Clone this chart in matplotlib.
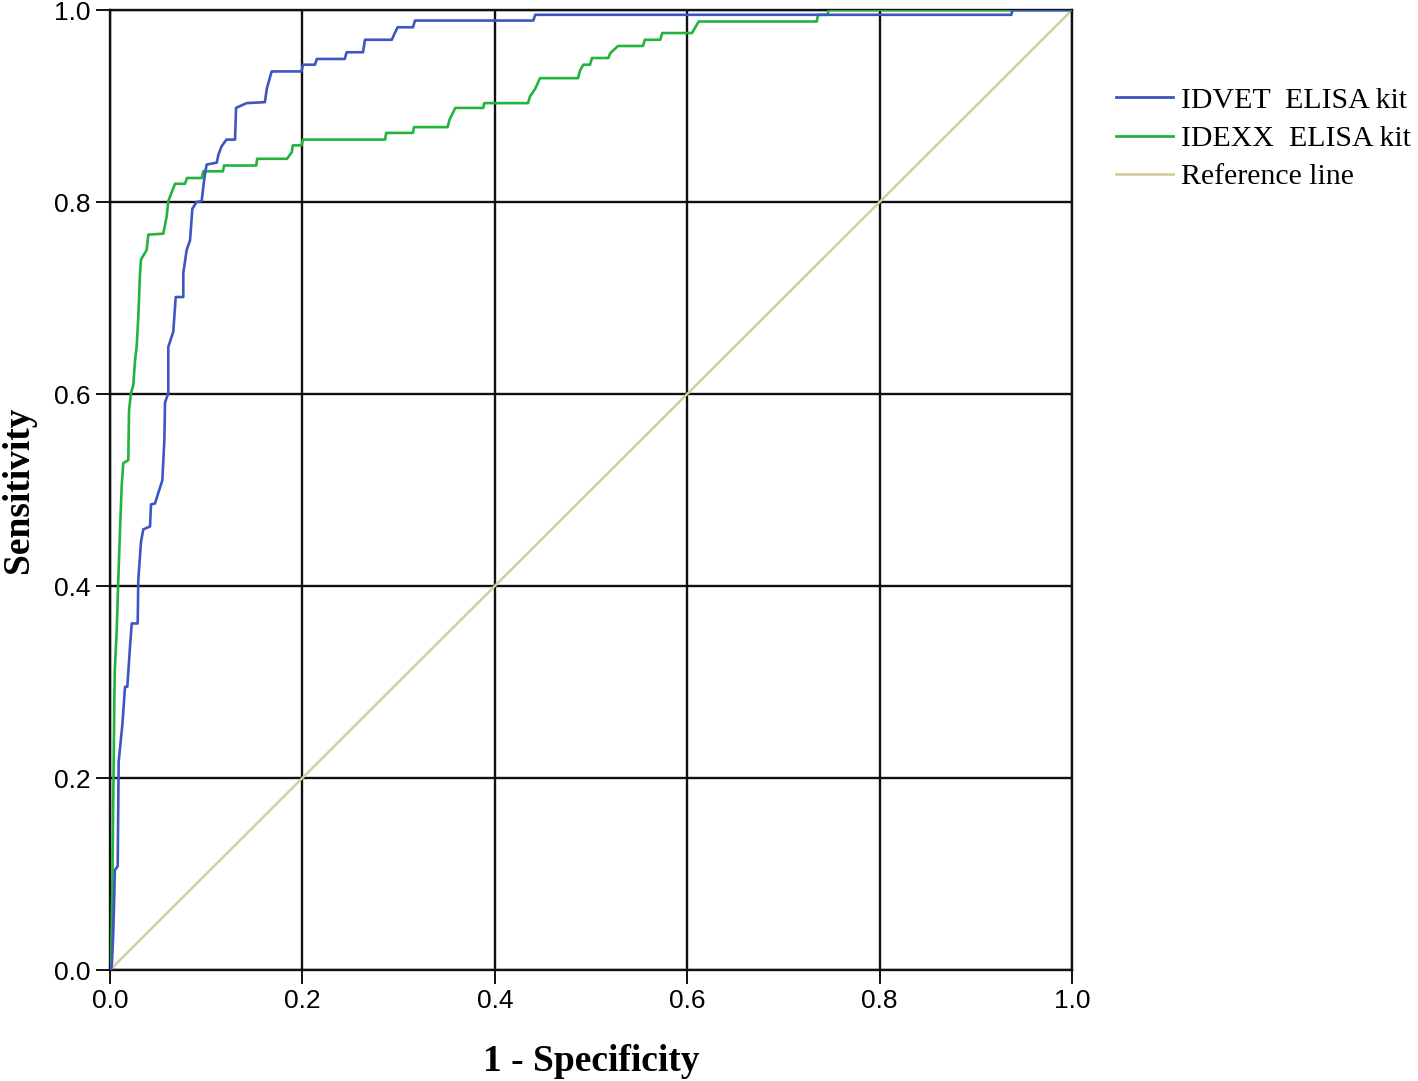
import matplotlib
matplotlib.use("Agg")
import numpy as np
import matplotlib.pyplot as plt

# ROC step vertices (1 - specificity, sensitivity)
idvet_fpr = [0.0, 0.001, 0.002, 0.0034, 0.0045, 0.005, 0.008, 0.009, 0.0128, 0.0156,
             0.018, 0.0208, 0.0226, 0.0288, 0.0294, 0.0322, 0.0346, 0.0416, 0.0426,
             0.0468, 0.0502, 0.0544, 0.0565, 0.0572, 0.0606, 0.0606, 0.0658, 0.0683,
             0.0762, 0.0762, 0.0797, 0.0832, 0.0856, 0.0901, 0.0953, 0.097, 0.0988,
             0.1005, 0.111, 0.1126, 0.116, 0.121, 0.130, 0.131, 0.142, 0.161, 0.163,
             0.168, 0.199, 0.2006, 0.213, 0.215, 0.244, 0.246, 0.263, 0.265, 0.293,
             0.296, 0.299, 0.315, 0.317, 0.44, 0.442, 0.937, 0.938, 1.0]
idvet_tpr = [0.0, 0.0, 0.007, 0.039, 0.080, 0.104, 0.108, 0.217, 0.255, 0.295,
             0.295, 0.337, 0.361, 0.361, 0.406, 0.446, 0.459, 0.462, 0.485,
             0.486, 0.497, 0.510, 0.552, 0.591, 0.601, 0.649, 0.665, 0.701,
             0.701, 0.726, 0.750, 0.760, 0.793, 0.800, 0.801, 0.816, 0.830,
             0.839, 0.841, 0.849, 0.858, 0.865, 0.865, 0.898, 0.903, 0.904, 0.918,
             0.936, 0.936, 0.943, 0.943, 0.949, 0.949, 0.956, 0.956, 0.969, 0.969,
             0.976, 0.982, 0.982, 0.989, 0.989, 0.995, 0.995, 1.0, 1.0]

idexx_fpr = [0.0, 0.001, 0.002, 0.0024, 0.0045, 0.005, 0.007, 0.0086, 0.0104, 0.0122,
             0.0138, 0.019, 0.0198, 0.0218, 0.0242, 0.026, 0.0277, 0.0294, 0.0312,
             0.0322, 0.0381, 0.0398, 0.0554, 0.0589, 0.0606, 0.0676, 0.078, 0.080,
             0.0953, 0.097, 0.1175, 0.1185, 0.152, 0.153, 0.184, 0.189, 0.190, 0.199,
             0.2006, 0.286, 0.287, 0.315, 0.316, 0.351, 0.353, 0.359, 0.388, 0.389,
             0.4345, 0.4366, 0.442, 0.447, 0.4865, 0.4886, 0.492, 0.499, 0.501, 0.518,
             0.520, 0.528, 0.554, 0.556, 0.572, 0.574, 0.605, 0.6067, 0.612, 0.7346,
             0.736, 0.746, 0.747, 1.0]
idexx_tpr = [0.0, 0.0, 0.059, 0.083, 0.281, 0.3125, 0.354, 0.406, 0.458, 0.505,
             0.528, 0.531, 0.583, 0.601, 0.609, 0.635, 0.649, 0.680, 0.726,
             0.740, 0.750, 0.766, 0.767, 0.785, 0.801, 0.819, 0.819, 0.825,
             0.825, 0.832, 0.832, 0.838, 0.838, 0.845, 0.845, 0.852, 0.859, 0.859,
             0.865, 0.865, 0.872, 0.872, 0.878, 0.878, 0.886, 0.898, 0.898, 0.903,
             0.903, 0.910, 0.918, 0.929, 0.929, 0.937, 0.943, 0.943, 0.950, 0.950,
             0.955, 0.9625, 0.9625, 0.969, 0.969, 0.976, 0.976, 0.979, 0.988, 0.988,
             0.995, 0.995, 1.0, 1.0]

ref_x = [0.0, 1.0]
ref_y = [0.0, 1.0]

labels = ["IDVET  ELISA kit", "IDEXX  ELISA kit", "Reference line"]
ticks = [0.0, 0.2, 0.4, 0.6, 0.8, 1.0]

fig = plt.figure(figsize=(14.18, 10.81), dpi=100)
ax = fig.add_axes([110/1418, 1 - 970/1081, 962/1418, 960/1081])

ax.plot(idvet_fpr, idvet_tpr, color="#3f55c2", lw=1.9, label=labels[0], zorder=4)
ax.plot(idexx_fpr, idexx_tpr, color="#22b43c", lw=1.9, label=labels[1], zorder=3)
ax.plot(ref_x, ref_y, color="#d6cd9e", lw=1.8, label=labels[2], zorder=2)

ax.set_xlim(0, 1)
ax.set_ylim(0, 1)
ax.set_xticks(ticks)
ax.set_yticks(ticks)
ax.set_xticklabels(["%.1f" % t for t in ticks])
ax.set_yticklabels(["%.1f" % t for t in ticks])
ax.grid(True, color="#111111", lw=1.7, zorder=1)
ax.set_axisbelow(True)
for s in ax.spines.values():
    s.set_color("#111111")
    s.set_linewidth(1.7)
ax.tick_params(axis="both", direction="out", length=10, width=1.4, color="#111111",
               labelsize=19, pad=4)
for lab in ax.get_xticklabels() + ax.get_yticklabels():
    lab.set_family("Liberation Sans")

ax.set_xlabel("1 - Specificity", family="Liberation Serif", fontweight="bold",
              fontsize=27, labelpad=22)
ax.set_ylabel("Sensitivity", family="Liberation Serif", fontweight="bold",
              fontsize=27, labelpad=13)

leg = ax.legend(loc="upper left", bbox_to_anchor=(1104/1418, 1 - 75/1081),
                bbox_transform=fig.transFigure, frameon=False,
                prop={"family": "Liberation Serif", "size": 21.5},
                handlelength=1.9, handletextpad=0.28, labelspacing=0.38,
                borderaxespad=0)
for line in leg.get_lines():
    line.set_linewidth(2.0)

fig.savefig("out.png", dpi=100)
